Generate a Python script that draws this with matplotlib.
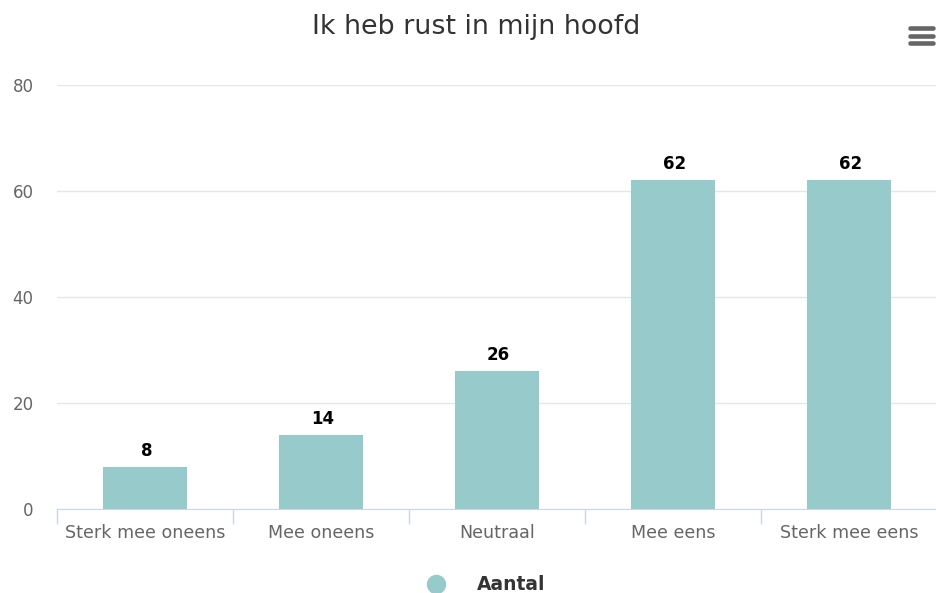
import matplotlib.pyplot as plt
from matplotlib.lines import Line2D

plt.rcParams['font.family'] = ['DejaVu Sans']

categories = ['Sterk mee oneens', 'Mee oneens', 'Neutraal', 'Mee eens', 'Sterk mee eens']
aantal = [8, 14, 26, 62, 62]
yticks = [0, 20, 40, 60, 80]

bar_color = '#97cacb'

fig = plt.figure(figsize=(9.37, 5.93), dpi=100)
ax = fig.add_axes([57 / 937, 1 - 509 / 593, 880 / 937, 424 / 593])

x = range(len(categories))
bars = ax.bar(x, aantal, width=0.475, color=bar_color, zorder=2)
for xi, v in zip(x, aantal):
    ax.annotate(str(v), (xi, v), xytext=(1, 5), textcoords='offset points',
                ha='center', va='bottom', fontsize=12, fontweight='bold', color='black')

ax.set_xlim(-0.5, len(categories) - 0.5)
ax.set_ylim(0, 80)
ax.set_yticks(yticks)
ax.set_yticklabels([str(t) for t in yticks])
ax.yaxis.grid(True, color='#e6e6e6', linewidth=1, zorder=0)
ax.tick_params(axis='y', length=0, labelsize=12, labelcolor='#666666', pad=17)

ax.set_xticks(list(x))
ax.set_xticklabels(categories)
ax.tick_params(axis='x', which='major', length=0, labelsize=12.6, labelcolor='#666666', pad=11)
ax.set_xticks([i - 0.5 for i in range(len(categories) + 1)], minor=True)
ax.tick_params(axis='x', which='minor', length=11, color='#ccd6eb', width=1)

for side in ['top', 'right', 'left']:
    ax.spines[side].set_visible(False)
ax.spines['bottom'].set_color('#ccd6eb')
ax.spines['bottom'].set_zorder(3)

fig.text(476 / 937, 1 - 27 / 593, 'Ik heb rust in mijn hoofd', ha='center', va='center',
         fontsize=19.4, color='#333333')

# legend
fig.add_artist(Line2D([436 / 937], [1 - 584 / 593], marker='o', markersize=13,
                      color=bar_color, linestyle='none', transform=fig.transFigure))
fig.text(477 / 937, 1 - 585 / 593, 'Aantal', ha='left', va='center', fontsize=13.5,
         fontweight='bold', color='#333333')

# menu icon
for yy in [28, 35.5, 43]:
    fig.add_artist(Line2D([910 / 937, 933 / 937], [1 - yy / 593] * 2, color='#666666',
                          linewidth=3.3, solid_capstyle='round', transform=fig.transFigure))

fig.savefig('out.png', dpi=100)
